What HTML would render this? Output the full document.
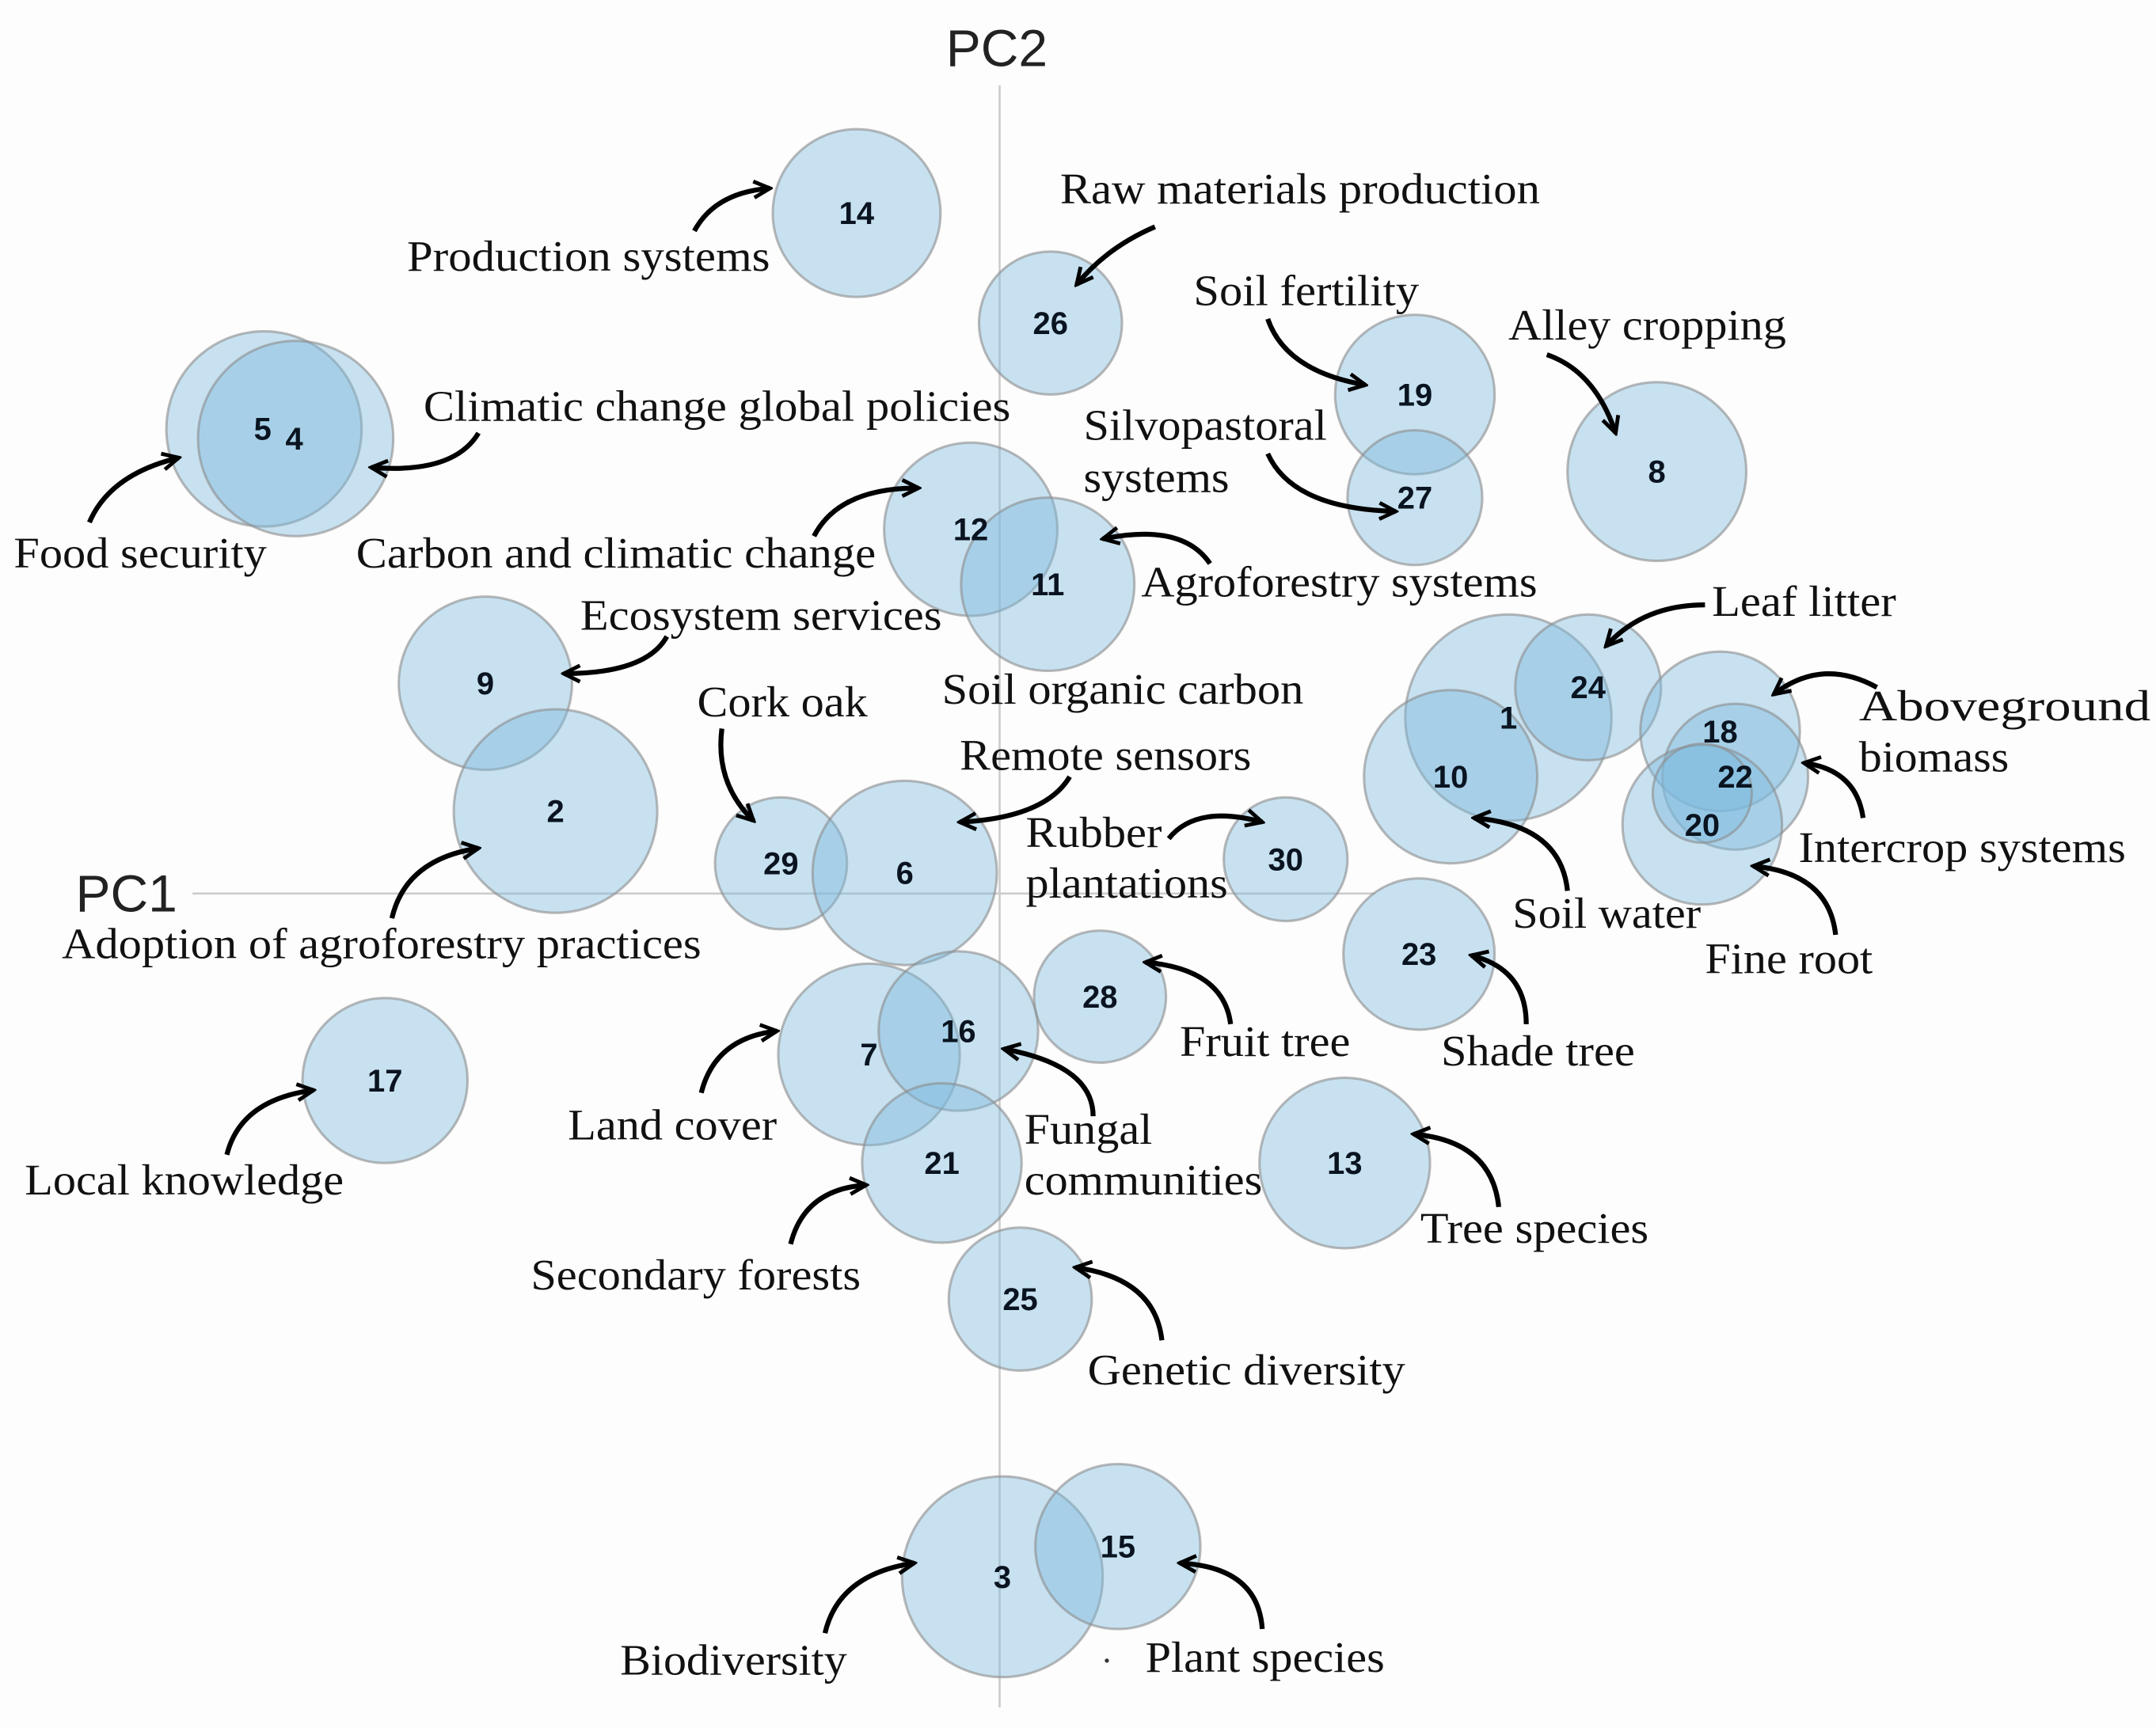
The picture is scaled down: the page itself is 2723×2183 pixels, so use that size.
<!DOCTYPE html>
<html><head><meta charset="utf-8"><style>
html,body{margin:0;padding:0;background:#fdfdfd;}
svg{display:block;}
.c{fill:rgba(125,185,222,0.42);stroke:rgba(140,140,140,0.6);stroke-width:1.8;}
.n{font-family:"Liberation Sans",sans-serif;font-weight:bold;font-size:23px;fill:#0a1420;text-anchor:middle;}
.l{font-family:"Liberation Serif",serif;font-size:32px;fill:#111;}
.a{fill:none;stroke:#000;stroke-width:3.6;}
.ax{font-family:"Liberation Sans",sans-serif;font-size:38px;fill:#222;}
</style></head><body>
<svg width="2723" height="2183" viewBox="0 0 1568 1257" preserveAspectRatio="none">
<defs><marker id="m" viewBox="0 0 14 14" refX="12" refY="7" markerWidth="15" markerHeight="15" orient="auto" markerUnits="userSpaceOnUse"><path d="M1,1.5 L12,7 L1,12.5" fill="none" stroke="#000" stroke-width="2.6"/></marker></defs>
<line x1="727" y1="62" x2="727" y2="1242" stroke="#ccc" stroke-width="1.5"/>
<line x1="140" y1="650" x2="1000" y2="650" stroke="#ccc" stroke-width="1.5"/>
<text class="ax" x="688" y="48">PC2</text>
<text class="ax" x="55" y="663">PC1</text>
<g>
<circle class="c" cx="623" cy="155" r="61"/>
<circle class="c" cx="764" cy="235" r="52"/>
<circle class="c" cx="192" cy="312" r="71"/>
<circle class="c" cx="215" cy="319" r="71"/>
<circle class="c" cx="1029" cy="287" r="58"/>
<circle class="c" cx="1029" cy="362" r="49"/>
<circle class="c" cx="1205" cy="343" r="65"/>
<circle class="c" cx="706" cy="385" r="63"/>
<circle class="c" cx="762" cy="425" r="63"/>
<circle class="c" cx="353" cy="497" r="63"/>
<circle class="c" cx="404" cy="590" r="74"/>
<circle class="c" cx="1097" cy="522" r="75"/>
<circle class="c" cx="1155" cy="500" r="53"/>
<circle class="c" cx="1055" cy="565" r="63"/>
<circle class="c" cx="1251" cy="532" r="58"/>
<circle class="c" cx="1262" cy="565" r="53"/>
<circle class="c" cx="1238" cy="600" r="58"/>
<circle class="c" cx="1238" cy="577" r="36"/>
<circle class="c" cx="568" cy="628" r="48"/>
<circle class="c" cx="658" cy="635" r="67"/>
<circle class="c" cx="935" cy="625" r="45"/>
<circle class="c" cx="1032" cy="694" r="55"/>
<circle class="c" cx="800" cy="725" r="48"/>
<circle class="c" cx="632" cy="767" r="66"/>
<circle class="c" cx="697" cy="750" r="58"/>
<circle class="c" cx="685" cy="846" r="58"/>
<circle class="c" cx="978" cy="846" r="62"/>
<circle class="c" cx="280" cy="786" r="60"/>
<circle class="c" cx="742" cy="945" r="52"/>
<circle class="c" cx="729" cy="1147" r="73"/>
<circle class="c" cx="813" cy="1125" r="60"/>
</g>
<g>
<text class="n" x="623" y="163">14</text>
<text class="n" x="764" y="243">26</text>
<text class="n" x="191" y="320">5</text>
<text class="n" x="214" y="327">4</text>
<text class="n" x="1029" y="295">19</text>
<text class="n" x="1029" y="370">27</text>
<text class="n" x="1205" y="351">8</text>
<text class="n" x="706" y="393">12</text>
<text class="n" x="762" y="433">11</text>
<text class="n" x="353" y="505">9</text>
<text class="n" x="404" y="598">2</text>
<text class="n" x="1097" y="530">1</text>
<text class="n" x="1155" y="508">24</text>
<text class="n" x="1055" y="573">10</text>
<text class="n" x="1251" y="540">18</text>
<text class="n" x="1262" y="573">22</text>
<text class="n" x="1238" y="608">20</text>
<text class="n" x="568" y="636">29</text>
<text class="n" x="658" y="643">6</text>
<text class="n" x="935" y="633">30</text>
<text class="n" x="1032" y="702">23</text>
<text class="n" x="800" y="733">28</text>
<text class="n" x="632" y="775">7</text>
<text class="n" x="697" y="758">16</text>
<text class="n" x="685" y="854">21</text>
<text class="n" x="978" y="854">13</text>
<text class="n" x="280" y="794">17</text>
<text class="n" x="742" y="953">25</text>
<text class="n" x="729" y="1155">3</text>
<text class="n" x="813" y="1133">15</text>
</g>
<g lengthAdjust="spacingAndGlyphs">
<text class="l" x="771" y="148" textLength="349" lengthAdjust="spacingAndGlyphs">Raw materials production</text>
<text class="l" x="296" y="197" textLength="264" lengthAdjust="spacingAndGlyphs">Production systems</text>
<text class="l" x="868" y="222" textLength="164" lengthAdjust="spacingAndGlyphs">Soil fertility</text>
<text class="l" x="1097" y="247" textLength="202" lengthAdjust="spacingAndGlyphs">Alley cropping</text>
<text class="l" x="308" y="306" textLength="427" lengthAdjust="spacingAndGlyphs">Climatic change global policies</text>
<text class="l" x="788" y="320" textLength="177" lengthAdjust="spacingAndGlyphs">Silvopastoral</text>
<text class="l" x="788" y="358" textLength="106" lengthAdjust="spacingAndGlyphs">systems</text>
<text class="l" x="10" y="413" textLength="184" lengthAdjust="spacingAndGlyphs">Food security</text>
<text class="l" x="259" y="413" textLength="378" lengthAdjust="spacingAndGlyphs">Carbon and climatic change</text>
<text class="l" x="830" y="434" textLength="288" lengthAdjust="spacingAndGlyphs">Agroforestry systems</text>
<text class="l" x="1245" y="448" textLength="134" lengthAdjust="spacingAndGlyphs">Leaf litter</text>
<text class="l" x="422" y="458" textLength="263" lengthAdjust="spacingAndGlyphs">Ecosystem services</text>
<text class="l" x="685" y="512" textLength="263" lengthAdjust="spacingAndGlyphs">Soil organic carbon</text>
<text class="l" x="507" y="521" textLength="124" lengthAdjust="spacingAndGlyphs">Cork oak</text>
<text class="l" x="1352" y="524" textLength="212" lengthAdjust="spacingAndGlyphs">Aboveground</text>
<text class="l" x="1352" y="561" textLength="109" lengthAdjust="spacingAndGlyphs">biomass</text>
<text class="l" x="698" y="560" textLength="212" lengthAdjust="spacingAndGlyphs">Remote sensors</text>
<text class="l" x="746" y="616" textLength="99" lengthAdjust="spacingAndGlyphs">Rubber</text>
<text class="l" x="746" y="653" textLength="147" lengthAdjust="spacingAndGlyphs">plantations</text>
<text class="l" x="1308" y="627" textLength="238" lengthAdjust="spacingAndGlyphs">Intercrop systems</text>
<text class="l" x="1100" y="675" textLength="137" lengthAdjust="spacingAndGlyphs">Soil water</text>
<text class="l" x="45" y="697" textLength="465" lengthAdjust="spacingAndGlyphs">Adoption of agroforestry practices</text>
<text class="l" x="1240" y="708" textLength="122" lengthAdjust="spacingAndGlyphs">Fine root</text>
<text class="l" x="858" y="768" textLength="124" lengthAdjust="spacingAndGlyphs">Fruit tree</text>
<text class="l" x="1048" y="775" textLength="141" lengthAdjust="spacingAndGlyphs">Shade tree</text>
<text class="l" x="413" y="829" textLength="152" lengthAdjust="spacingAndGlyphs">Land cover</text>
<text class="l" x="745" y="832" textLength="93" lengthAdjust="spacingAndGlyphs">Fungal</text>
<text class="l" x="745" y="869" textLength="173" lengthAdjust="spacingAndGlyphs">communities</text>
<text class="l" x="18" y="869" textLength="232" lengthAdjust="spacingAndGlyphs">Local knowledge</text>
<text class="l" x="1033" y="904" textLength="166" lengthAdjust="spacingAndGlyphs">Tree species</text>
<text class="l" x="386" y="938" textLength="240" lengthAdjust="spacingAndGlyphs">Secondary forests</text>
<text class="l" x="791" y="1007" textLength="231" lengthAdjust="spacingAndGlyphs">Genetic diversity</text>
<text class="l" x="451" y="1218" textLength="165" lengthAdjust="spacingAndGlyphs">Biodiversity</text>
<text class="l" x="833" y="1216" textLength="174" lengthAdjust="spacingAndGlyphs">Plant species</text>
<circle cx="805" cy="1208" r="1.5" fill="#333"/>
</g>
<g marker-end="url(#m)">
<path class="a" d="M505,168 Q520,140 560,137"/>
<path class="a" d="M840,165 Q805,180 783,207"/>
<path class="a" d="M348,315 Q330,345 270,340"/>
<path class="a" d="M65,380 Q80,345 130,333"/>
<path class="a" d="M592,390 Q610,355 668,355"/>
<path class="a" d="M922,232 Q935,270 993,280"/>
<path class="a" d="M1125,258 Q1160,270 1175,315"/>
<path class="a" d="M922,330 Q940,370 1015,372"/>
<path class="a" d="M880,410 Q860,380 802,392"/>
<path class="a" d="M1240,440 Q1195,440 1168,470"/>
<path class="a" d="M485,463 Q470,490 410,490"/>
<path class="a" d="M1365,500 Q1325,478 1290,505"/>
<path class="a" d="M1355,595 Q1350,560 1312,555"/>
<path class="a" d="M1335,680 Q1330,635 1275,630"/>
<path class="a" d="M1140,648 Q1135,600 1072,595"/>
<path class="a" d="M525,530 Q520,570 548,597"/>
<path class="a" d="M778,565 Q760,595 698,598"/>
<path class="a" d="M850,610 Q870,585 918,598"/>
<path class="a" d="M285,668 Q295,625 348,617"/>
<path class="a" d="M895,745 Q890,705 833,700"/>
<path class="a" d="M1110,745 Q1110,705 1070,695"/>
<path class="a" d="M510,795 Q520,755 565,750"/>
<path class="a" d="M795,812 Q795,775 730,763"/>
<path class="a" d="M165,840 Q175,800 228,793"/>
<path class="a" d="M1090,878 Q1085,830 1028,825"/>
<path class="a" d="M575,905 Q585,865 630,862"/>
<path class="a" d="M845,975 Q840,930 782,922"/>
<path class="a" d="M600,1188 Q610,1145 665,1137"/>
<path class="a" d="M918,1185 Q915,1140 858,1137"/>
</g>
</svg>
</body></html>
